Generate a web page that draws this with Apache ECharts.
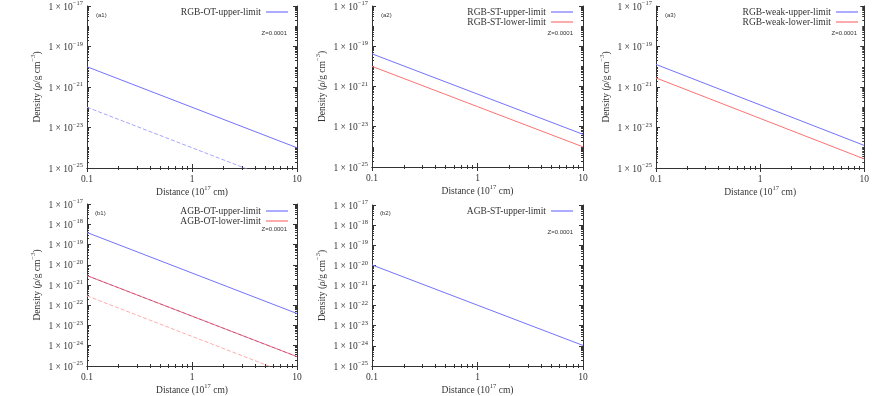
<!DOCTYPE html>
<html>
<head>
<meta charset="utf-8">
<title>Density vs distance</title>
<script src="https://cdn.jsdelivr.net/npm/echarts@6/dist/echarts.min.js"></script>
<style>
  html, body { margin: 0; padding: 0; background: #fff; }
  #chart { width: 872px; height: 396px; }
</style>
</head>
<body>
<div id="chart"></div>
<script>
// distance in units of 1e17 cm, density in g cm^-3 (power law, straight in log-log)
const distance = [0.1, 1, 10]

const a1Upper = [1e-20, 1e-22, 1e-24]
const a1Faint = [1e-22, 1e-24, 1e-26]
const a2Upper = [4.2e-20, 4.2e-22, 4.2e-24]
const a2Lower = [1e-20, 1e-22, 1e-24]
const a3Upper = [1.3e-20, 1.3e-22, 1.3e-24]
const a3Lower = [2.8e-21, 2.8e-23, 2.8e-25]
const b1Upper = [3.9e-19, 3.9e-21, 3.9e-23]
const b1Lower = [2.9e-21, 2.9e-23, 2.9e-25]
const b1Faint = [2.9e-22, 2.9e-24, 2.9e-26]
const b2Upper = [1.05e-20, 1.05e-22, 1.05e-24]

// tick labels
const xTickLabels = [0.1, 1, 10]
const yExpTopRow = [-25, -23, -21, -19, -17]
const yExpBottomRow = [-25, -24, -23, -22, -21, -20, -19, -18, -17]

const SERIF = '"Liberation Serif", "DejaVu Serif", serif'
const SANS = '"Liberation Sans", "DejaVu Sans", sans-serif'
const INK = '#333'
const BLUE = '#7373ff'
const RED = '#ff7373'
const FS = 9.5

const pow10 = (e) => Number('1e' + e)

const panels = [
  {
    tag: '(a1)', grid: { left: 87, top: 5, width: 210, height: 163 }, yExp: yExpTopRow,
    legendRight: 584, legendTop: 7, tagXY: [96, 15], zXY: [287, 33],
    series: [
      { name: 'RGB-OT-upper-limit', data: a1Upper, color: BLUE },
      { name: 'a1-faint', data: a1Faint, color: '#a5a5ff', dash: [4, 2], hidden: true },
    ],
  },
  {
    tag: '(a2)', grid: { left: 372, top: 5, width: 211, height: 162 }, yExp: yExpTopRow,
    legendRight: 299, legendTop: 7, tagXY: [381, 15], zXY: [573, 33],
    series: [
      { name: 'RGB-ST-upper-limit', data: a2Upper, color: BLUE },
      { name: 'RGB-ST-lower-limit', data: a2Lower, color: RED },
    ],
  },
  {
    tag: '(a3)', grid: { left: 656, top: 5, width: 212, height: 163 }, yExp: yExpTopRow,
    legendRight: 14, legendTop: 7, tagXY: [665, 15], zXY: [857, 33],
    series: [
      { name: 'RGB-weak-upper-limit', data: a3Upper, color: BLUE },
      { name: 'RGB-weak-lower-limit', data: a3Lower, color: RED },
    ],
  },
  {
    tag: '(b1)', grid: { left: 87, top: 204, width: 210, height: 164 }, yExp: yExpBottomRow,
    legendRight: 584, legendTop: 206, tagXY: [95, 213], zXY: [287, 229],
    series: [
      { name: 'AGB-OT-upper-limit', data: b1Upper, color: BLUE },
      { name: 'AGB-OT-lower-limit', data: b1Lower, color: RED },
      { name: 'b1-overlap', data: b1Lower, color: 'rgba(120,30,150,0.45)', dash: [4, 2], hidden: true },
      { name: 'b1-faint', data: b1Faint, color: '#ffadad', dash: [4, 2], hidden: true },
    ],
  },
  {
    tag: '(b2)', grid: { left: 372, top: 205, width: 211, height: 162 }, yExp: yExpBottomRow,
    legendRight: 299, legendTop: 206, tagXY: [380, 213], zXY: [573, 232],
    series: [
      { name: 'AGB-ST-upper-limit', data: b2Upper, color: BLUE },
    ],
  },
]

function minorValues(lo, hi, majors) {
  const out = []
  for (let e = lo; e < hi; e++) {
    if (!majors.includes(e)) out.push(pow10(e))
    for (let k = 2; k <= 9; k++) out.push(Number(k + 'e' + e))
  }
  return out
}

const supRich = {
  t: { fontFamily: SERIF, fontSize: FS, color: INK, verticalAlign: 'bottom', lineHeight: 12 },
  i: { fontFamily: SERIF, fontSize: FS, color: INK, fontStyle: 'italic', verticalAlign: 'bottom', lineHeight: 12 },
  s: { fontFamily: SERIF, fontSize: 6.5, color: INK, verticalAlign: 'top', lineHeight: 12 },
}

function baseAxis(gi, min, max) {
  return {
    type: 'log', logBase: 10, gridIndex: gi, min, max,
    splitLine: { show: false },
    axisLabel: { show: false },
    axisLine: { show: false },
    axisTick: { show: false },
  }
}

function buildXAxes(gi) {
  const min = 0.1, max = 10
  const majors = xTickLabels
  const minors = minorValues(-1, 1, [-1, 0, 1])
  const lineStyle = { color: INK, width: 1 }
  return [
    {
      ...baseAxis(gi, min, max), position: 'bottom',
      axisLine: { show: true, lineStyle },
      axisTick: { show: true, inside: true, length: 4, customValues: majors, lineStyle },
      axisLabel: {
        show: true, customValues: majors, margin: 6,
        fontFamily: SERIF, fontSize: FS, color: INK,
        formatter: (v) => String(v),
      },
      name: '{t|Distance (10}{s|17}{t| cm)}',
      nameLocation: 'middle', nameGap: 17,
      nameTextStyle: { rich: supRich },
    },
    {
      ...baseAxis(gi, min, max), position: 'bottom',
      axisTick: { show: true, inside: true, length: 2, customValues: minors, lineStyle },
    },
    {
      ...baseAxis(gi, min, max), position: 'top',
      axisLine: { show: true, lineStyle },
      axisTick: { show: true, inside: true, length: 4, customValues: majors, lineStyle },
    },
    {
      ...baseAxis(gi, min, max), position: 'top',
      axisTick: { show: true, inside: true, length: 2, customValues: minors, lineStyle },
    },
  ]
}

function buildYAxes(gi, yExp) {
  const lo = yExp[0], hi = yExp[yExp.length - 1]
  const min = pow10(lo), max = pow10(hi)
  const majors = yExp.map(pow10)
  const minors = minorValues(lo, hi, yExp)
  const lineStyle = { color: INK, width: 1 }
  return [
    {
      ...baseAxis(gi, min, max), position: 'left',
      axisLine: { show: true, lineStyle },
      axisTick: { show: true, inside: true, length: 4, customValues: majors, lineStyle },
      axisLabel: {
        show: true, customValues: majors, margin: 4,
        formatter: (v) => '{t|1 × 10}{s|−' + (-Math.round(Math.log10(v))) + '}',
        rich: supRich,
      },
      name: '{t|Density (}{i|ρ}{t|/g cm}{s|−3}{t|)}',
      nameLocation: 'middle', nameGap: 45, nameRotate: 90,
      nameTextStyle: { rich: supRich },
    },
    {
      ...baseAxis(gi, min, max), position: 'left',
      axisTick: { show: true, inside: true, length: 2, customValues: minors, lineStyle },
    },
    {
      ...baseAxis(gi, min, max), position: 'right',
      axisLine: { show: true, lineStyle },
      axisTick: { show: true, inside: true, length: 4, customValues: majors, lineStyle },
    },
    {
      ...baseAxis(gi, min, max), position: 'right',
      axisTick: { show: true, inside: true, length: 2, customValues: minors, lineStyle },
    },
  ]
}

const grid = []
const xAxis = []
const yAxis = []
const series = []
const legend = []
const graphic = []

panels.forEach((p, gi) => {
  grid.push({ ...p.grid, containLabel: false })
  xAxis.push(...buildXAxes(gi))
  yAxis.push(...buildYAxes(gi, p.yExp))

  for (const s of p.series) {
    series.push({
      name: s.name,
      type: 'line',
      xAxisIndex: gi * 4,
      yAxisIndex: gi * 4,
      data: distance.map((d, i) => [d, s.data[i]]),
      symbol: 'none',
      showSymbol: false,
      clip: true,
      silent: true,
      animation: false,
      itemStyle: { color: s.color, borderWidth: 0 },
      lineStyle: { color: s.color, width: 1, type: s.dash || 'solid' },
    })
  }

  legend.push({
    data: p.series.filter((s) => !s.hidden).map((s) => s.name),
    right: p.legendRight,
    top: p.legendTop,
    orient: 'vertical',
    align: 'right',
    icon: 'rect',
    itemWidth: 22,
    itemHeight: 1.2,
    itemGap: 0,
    padding: 0,
    selectedMode: false,
    itemStyle: { borderWidth: 0 },
    textStyle: { fontFamily: SERIF, fontSize: FS, color: INK, lineHeight: 9 },
  })

  graphic.push({
    type: 'text', x: p.tagXY[0], y: p.tagXY[1],
    style: { text: p.tag, font: '6px ' + SANS, fill: INK, verticalAlign: 'middle' },
  })
  graphic.push({
    type: 'text', x: p.zXY[0], y: p.zXY[1],
    style: { text: 'Z=0.0001', font: '6px ' + SANS, fill: INK, align: 'right', verticalAlign: 'middle' },
  })
})

const chart = echarts.init(document.getElementById('chart'))
chart.setOption({
  animation: false,
  backgroundColor: '#fff',
  grid,
  xAxis,
  yAxis,
  legend,
  series,
  graphic,
})
</script>
</body>
</html>
